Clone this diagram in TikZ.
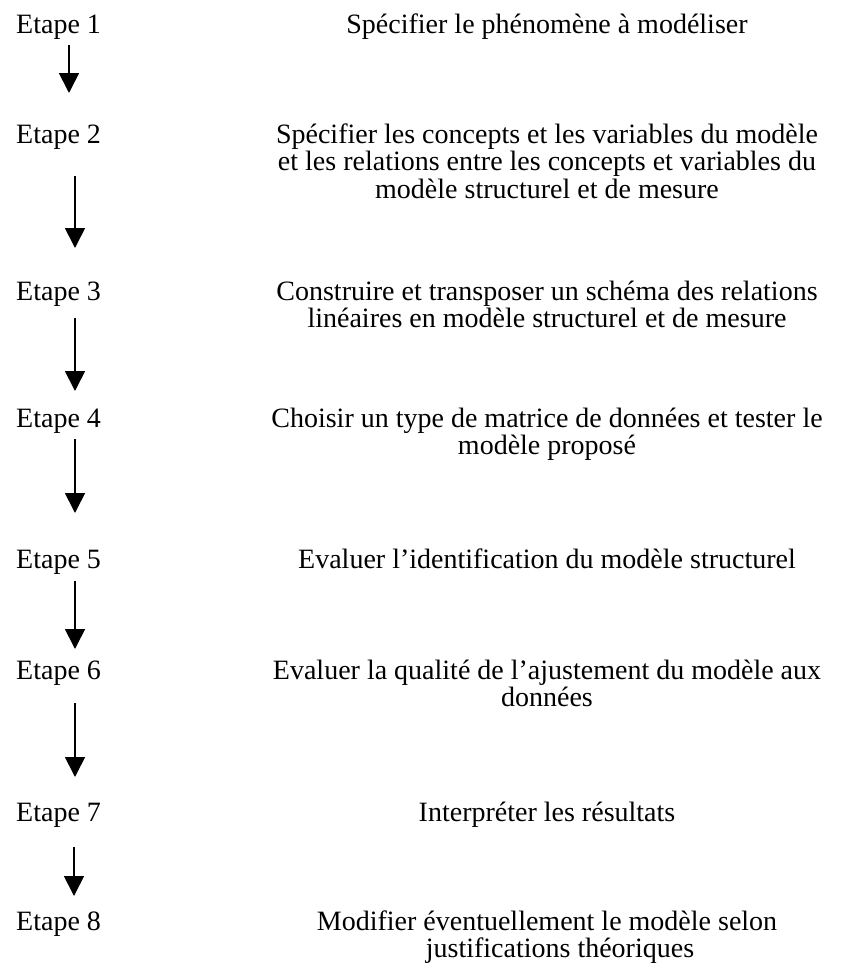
\documentclass[tikz,border=0pt]{standalone}
\usepackage{fontspec}
\setmainfont{Liberation Serif}
\usetikzlibrary{arrows.meta}
\tikzset{
  etape/.style={anchor=base west, inner sep=0pt, font=\fontsize{28}{27.7}\selectfont},
  desc/.style={anchor=base, inner sep=0pt, align=center, font=\fontsize{28}{27.7}\selectfont},
  flow/.style={line width=1.7pt, -{Triangle[width=20pt,length=20pt]}}
}
\begin{document}
\begin{tikzpicture}[x=1pt,y=1pt]
\useasboundingbox (0,0) rectangle (853,-969);
% step labels
\node[etape] (e1) at (16,-33) {Etape 1};
\node[etape] (e2) at (16,-143) {Etape 2};
\node[etape] (e3) at (16,-300) {Etape 3};
\node[etape] (e4) at (16,-427) {Etape 4};
\node[etape] (e5) at (16,-568) {Etape 5};
\node[etape] (e6) at (16,-679) {Etape 6};
\node[etape] (e7) at (16,-821) {Etape 7};
\node[etape] (e8) at (16,-930) {Etape 8};
% descriptions (base anchor = baseline of the last line)
\node[desc] (d1) at (547,-33) {Spécifier le phénomène à modéliser};
\node[desc] (d2) at (547,-198.4) {Spécifier les concepts et les variables du modèle\\et les relations entre les concepts et variables du\\modèle structurel et de mesure};
\node[desc] (d3) at (547,-327.7) {Construire et transposer un schéma des relations\\linéaires en modèle structurel et de mesure};
\node[desc] (d4) at (547,-454.7) {Choisir un type de matrice de données et tester le\\modèle proposé};
\node[desc] (d5) at (547,-568) {Evaluer l’identification du modèle structurel};
\node[desc] (d6) at (547,-706.7) {Evaluer la qualité de l’ajustement du modèle aux\\données};
\node[desc] (d7) at (547,-821) {Interpréter les résultats};
\node[desc] (d8) at (547,-957.7) {Modifier éventuellement le modèle selon\\\hspace*{26pt}justifications théoriques};
% arrow end points
\coordinate (s1) at (69,-45);  \coordinate (t1) at (69,-93);
\coordinate (s2) at (75,-176); \coordinate (t2) at (75,-248);
\coordinate (s3) at (75,-318); \coordinate (t3) at (75,-391);
\coordinate (s4) at (75,-439); \coordinate (t4) at (75,-513);
\coordinate (s5) at (75,-581); \coordinate (t5) at (75,-649);
\coordinate (s6) at (75,-703); \coordinate (t6) at (75,-777);
\coordinate (s7) at (74,-847); \coordinate (t7) at (74,-896);
\foreach \i in {1,...,7} {\draw[flow] (s\i) -- (t\i);}
\end{tikzpicture}
\end{document}
